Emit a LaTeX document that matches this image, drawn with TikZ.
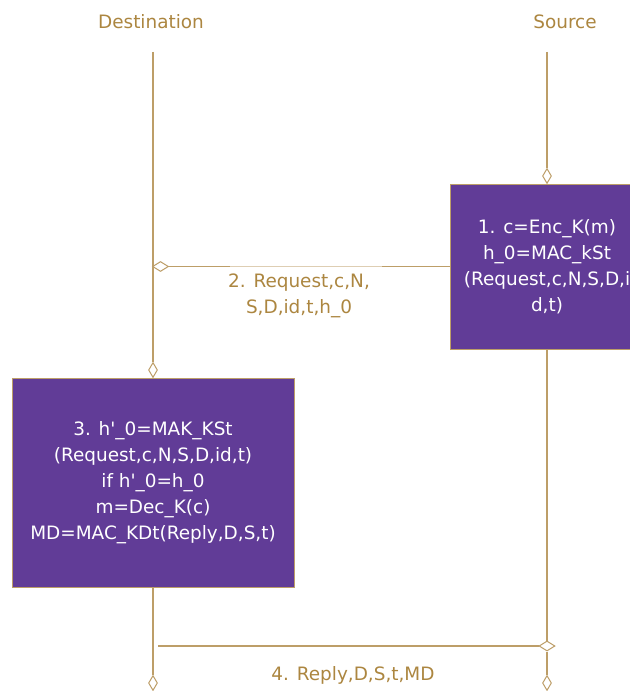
\documentclass[tikz,border=0pt]{standalone}
\usepackage{fontspec}
\setmainfont{DejaVu Sans}
\usetikzlibrary{shapes.geometric}
\definecolor{linec}{HTML}{BD9E68}
\definecolor{textc}{HTML}{AC8640}
\definecolor{boxc}{HTML}{613C97}
\begin{document}
\begin{tikzpicture}[x=1bp,y=-1bp,
 lbl/.style={text=textc, font=\fontsize{18.5}{26}\selectfont, align=center, inner sep=0},
 procbox/.style={draw=linec, line width=0.8bp, fill=boxc, text=white, font=\fontsize{18.5}{26}\selectfont, align=center, inner sep=0},
 vdia/.style={diamond, draw=linec, fill=white, line width=1bp, minimum width=9bp, minimum height=15bp, inner sep=0},
 hdia/.style={diamond, draw=linec, fill=white, line width=1bp, minimum width=16bp, minimum height=10bp, inner sep=0},
 life/.style={draw=linec, line width=1.2bp},
 veil/.style={draw=white, draw opacity=0.5, line width=2bp}]
\useasboundingbox (0,0) rectangle (630,691);
\clip (0,0) rectangle (630,691);
\fill[white] (0,0) rectangle (630,691);
% labels
\node[lbl] (ldest) at (151,22) {Destination};
\node[lbl] (lsrc) at (565,22) {Source};
% boxes
\node[procbox, minimum width=194bp, minimum height=165bp] (box1) at (547,266.5)
  {1. c=Enc\_K(m)\\h\_0=MAC\_kSt\\(Request,c,N,S,D,i\\d,t)};
\node[procbox, minimum width=282bp, minimum height=209bp] (box3) at (153,482.5)
  {3. h\textquotesingle\_0=MAK\_KSt\\(Request,c,N,S,D,id,t)\\if h\textquotesingle\_0=h\_0\\m=Dec\_K(c)\\MD=MAC\_KDt(Reply,D,S,t)};
% lifeline points
\coordinate (dtop) at (153,52);
\coordinate (stop) at (547,52);
\coordinate (m4start) at (158,646);
\coordinate (veilA) at (230,266.5);
\coordinate (veilB) at (382,266.5);
% diamonds
\node[vdia] (s1) at (547,176) {};
\node[hdia] (d2) at (160.5,266.5) {};
\node[vdia] (d1) at (153,370) {};
\node[hdia] (s4) at (547,646) {};
\node[vdia] (dend) at (153,683) {};
\node[vdia] (send) at (547,683) {};
% lifelines
\draw[life] (dtop) -- (d1.north);
\draw[life] (box3.south) -- (dend.north);
\draw[life] (stop) -- (s1.north);
\draw[life] (box1.south) -- (s4.north);
\draw[life] (s4.south) -- (send.north);
% messages
\draw[life] (box1.west) -- (d2.east);
\draw[veil] (veilA) -- (veilB);
\draw[life] (m4start) -- (s4.west);
\node[lbl] (l2) at (299,296) {2. Request,c,N,\\S,D,id,t,h\_0};
\node[lbl] (l4) at (353,675) {4. Reply,D,S,t,MD};
\end{tikzpicture}
\end{document}
